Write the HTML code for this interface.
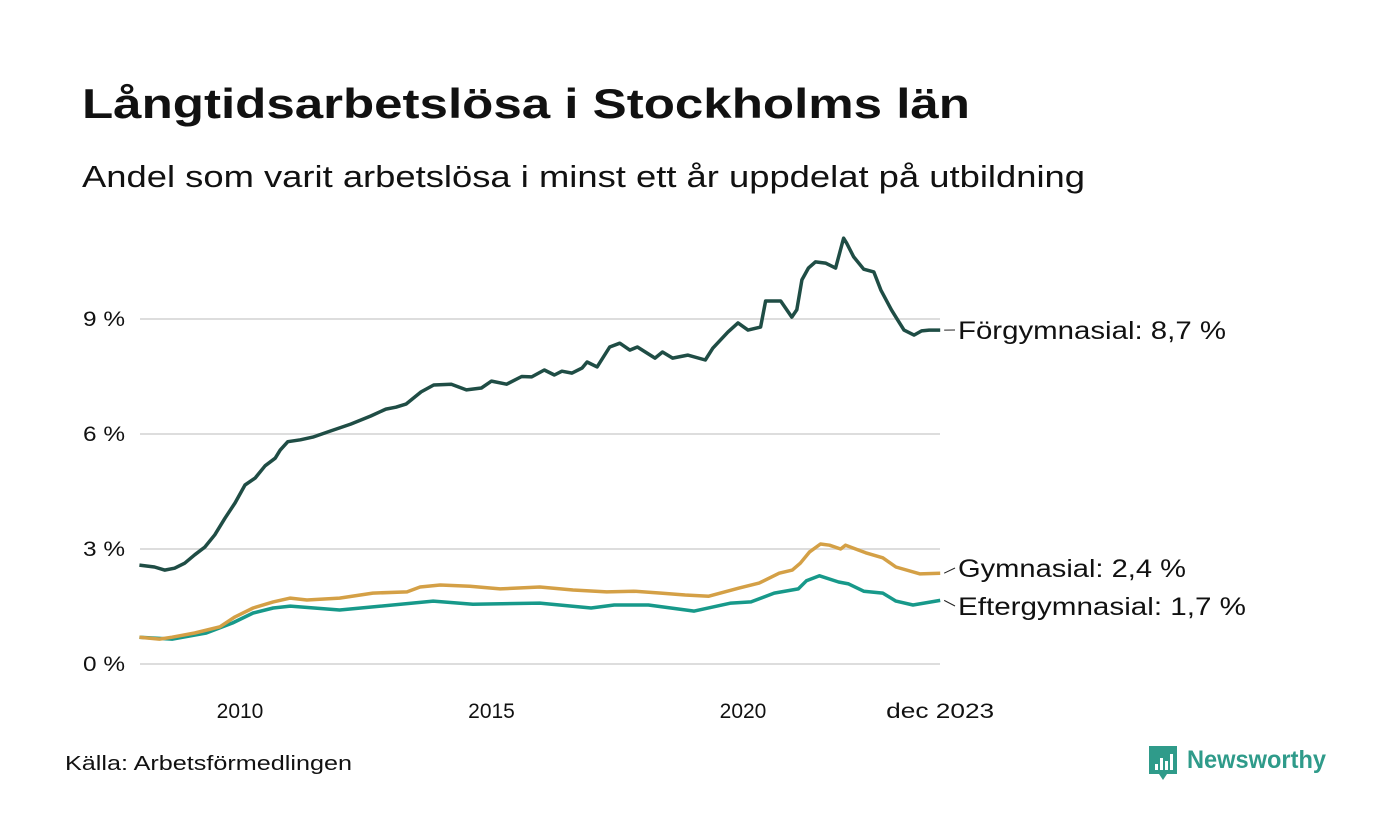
<!DOCTYPE html>
<html><head><meta charset="utf-8">
<style>
body{margin:0;background:#fff;font-family:"Liberation Sans",sans-serif;}
#wrap{position:relative;width:1400px;height:840px;overflow:hidden;}
</style></head>
<body>
<div id="wrap">
<svg id="svg" width="1400" height="840">
<text x="82" y="118" font-size="42" font-weight="bold" fill="#111" textLength="888" lengthAdjust="spacingAndGlyphs">Långtidsarbetslösa i Stockholms län</text>
<text x="82" y="187" font-size="31" fill="#111" textLength="1003" lengthAdjust="spacingAndGlyphs">Andel som varit arbetslösa i minst ett år uppdelat på utbildning</text>
<g id="grid"></g><g id="lines"></g><g id="labels"></g>
<text x="65" y="770" font-size="20" fill="#111" textLength="287" lengthAdjust="spacingAndGlyphs">Källa: Arbetsförmedlingen</text>
<g>
<path d="M1149 746 h28 v28 h-10 l-4 6 l-4 -6 h-10 z" fill="#2f9b8a"/>
<rect x="1155" y="764" width="3" height="6" fill="#fff"/><rect x="1160" y="758" width="3" height="12" fill="#fff"/><rect x="1165" y="761" width="3" height="9" fill="#fff"/><rect x="1170" y="754" width="3" height="16" fill="#fff"/>
<text x="1187" y="768" font-size="25" font-weight="bold" fill="#2f9b8a" textLength="139" lengthAdjust="spacingAndGlyphs">Newsworthy</text>
</g>
</svg>
</div>
<script>
const yTicks=[0,3,6,9];
const xTicks=[2010,2015,2020];
const xTickLabels=["2010","2015","2020"];
const endDate=2023.92, endLabel="dec 2023";
const forYears=[2008.0,2008.3,2008.5,2008.7,2008.9,2009.1,2009.3,2009.5,2009.7,2009.9,2010.1,2010.3,2010.5,2010.7,2010.8,2010.95,2011.2,2011.45,2011.8,2012.2,2012.6,2012.9,2013.1,2013.3,2013.6,2013.85,2014.2,2014.5,2014.8,2015.0,2015.3,2015.6,2015.8,2016.05,2016.25,2016.4,2016.6,2016.8,2016.9,2017.1,2017.35,2017.55,2017.75,2017.9,2018.25,2018.4,2018.6,2018.9,2019.25,2019.4,2019.7,2019.9,2020.1,2020.35,2020.45,2020.75,2020.97,2021.07,2021.17,2021.3,2021.44,2021.64,2021.84,2022.0,2022.06,2022.2,2022.4,2022.6,2022.74,2022.95,2023.05,2023.2,2023.4,2023.55,2023.7,2023.92];
const forVals=[2.58,2.53,2.45,2.5,2.63,2.85,3.05,3.37,3.8,4.2,4.67,4.85,5.17,5.37,5.58,5.8,5.85,5.92,6.08,6.26,6.47,6.65,6.7,6.78,7.1,7.28,7.3,7.15,7.2,7.38,7.3,7.5,7.49,7.67,7.54,7.64,7.59,7.72,7.88,7.75,8.27,8.37,8.19,8.27,7.98,8.14,7.98,8.06,7.93,8.24,8.66,8.9,8.71,8.79,9.47,9.47,9.05,9.24,10.02,10.33,10.49,10.46,10.33,11.11,10.98,10.62,10.3,10.23,9.76,9.24,9.03,8.71,8.58,8.69,8.71,8.71];
const gymYears=[2008.0,2008.4,2008.65,2009.1,2009.6,2009.9,2010.26,2010.66,2011.0,2011.33,2011.98,2012.64,2013.32,2013.58,2013.98,2014.57,2015.17,2015.96,2016.62,2017.29,2017.83,2018.37,2018.85,2019.32,2019.92,2020.32,2020.72,2020.98,2021.14,2021.32,2021.54,2021.72,2021.94,2022.04,2022.44,2022.78,2023.04,2023.52,2023.92];
const gymVals=[0.7,0.65,0.7,0.81,0.97,1.23,1.46,1.62,1.72,1.67,1.72,1.85,1.88,2.01,2.06,2.03,1.96,2.01,1.93,1.88,1.9,1.85,1.8,1.77,1.98,2.11,2.37,2.45,2.63,2.92,3.13,3.1,3.0,3.1,2.9,2.77,2.53,2.35,2.37];
const eftYears=[2008.0,2008.65,2009.33,2009.85,2010.26,2010.66,2011.0,2011.98,2012.64,2013.84,2014.63,2015.96,2016.98,2017.44,2018.12,2019.03,2019.76,2020.16,2020.62,2021.1,2021.26,2021.52,2021.9,2022.1,2022.4,2022.78,2023.04,2023.38,2023.92];
const eftVals=[0.7,0.65,0.81,1.07,1.33,1.46,1.51,1.41,1.49,1.64,1.56,1.59,1.46,1.54,1.54,1.38,1.59,1.62,1.85,1.96,2.17,2.3,2.14,2.09,1.9,1.85,1.64,1.54,1.66];
const names=["Förgymnasial","Gymnasial","Eftergymnasial"];
const colors=["#1f4d45","#d4a046","#17998a"];

const X=y=>240+(y-2010)*50.3;
const Y=v=>664-v*38.33;
const NS="http://www.w3.org/2000/svg";
function mk(t,a,p){const e=document.createElementNS(NS,t);for(const k in a)e.setAttribute(k,a[k]);p.appendChild(e);return e;}
const grid=document.getElementById('grid');
yTicks.forEach(v=>{
 const l=mk('line',{x1:140,x2:940,y1:Y(v),y2:Y(v),stroke:'#ddd','stroke-width':2},grid);
 
 
 const t=mk('text',{x:125,y:Y(v)+7,'font-size':21,fill:'#111','text-anchor':'end',textLength:42,lengthAdjust:'spacingAndGlyphs'},grid);
 t.textContent=v+' %';
 
 
});
xTicks.forEach((v,i)=>{
 const t=mk('text',{x:X(v),y:718,'font-size':21,fill:'#111','text-anchor':'middle'},grid);
 t.textContent=xTickLabels[i];
 
 
});
const te=mk('text',{x:X(endDate),y:718,'font-size':21,fill:'#111','text-anchor':'middle',textLength:108,lengthAdjust:'spacingAndGlyphs'},grid);
te.textContent=endLabel;



const series=[[forYears,forVals],[gymYears,gymVals],[eftYears,eftVals]];
const lines=document.getElementById('lines'),labels=document.getElementById('labels');
const labelY=[330,568,606];
const labelW=[268,228,288];
[2,1,0].forEach(i=>{
 const [ys,vs]=series[i];
 const d=ys.map((y,j)=>(j?'L':'M')+X(y).toFixed(1)+' '+Y(vs[j]).toFixed(1)).join(' ');
 const p=mk('path',{d:d,fill:'none',stroke:colors[i],'stroke-width':3.5,'stroke-linejoin':'round'},lines);
 
 
 const last=vs[vs.length-1];
 const ly=labelY[i];
 const c=mk('line',{x1:X(ys[ys.length-1])+4,y1:Y(last),x2:955,y2:ly,stroke:'#222','stroke-width':1},labels);
 
 
 const t=mk('text',{x:958,y:ly+9,'font-size':25,fill:'#111',textLength:labelW[i],lengthAdjust:'spacingAndGlyphs'},labels);
 t.textContent=names[i]+': '+(Math.round(last*10)/10).toFixed(1).replace('.',',')+' %';
 
 
});
</script>
</body></html>
